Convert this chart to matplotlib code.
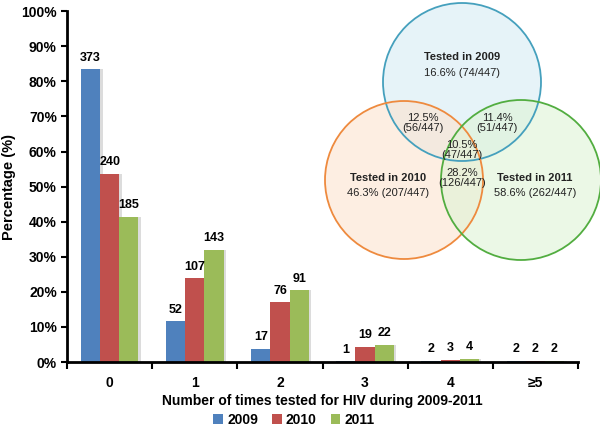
import matplotlib
matplotlib.use("Agg")
import matplotlib.pyplot as plt
from matplotlib.patches import Circle
import numpy as np

plt.rcParams['font.family'] = ['Liberation Sans', 'DejaVu Sans']

categories = ['0', '1', '2', '3', '4', '≥5']
years = ['2009', '2010', '2011']
pct_2009 = [83.4, 11.6, 3.8, 0.2, 0.4, 0.4]
pct_2010 = [53.7, 23.9, 17.0, 4.3, 0.7, 0.4]
pct_2011 = [41.4, 32.0, 20.4, 4.9, 0.9, 0.4]
cnt_2009 = [373, 52, 17, 1, 2, 2]
cnt_2010 = [240, 107, 76, 19, 3, 2]
cnt_2011 = [185, 143, 91, 22, 4, 2]
colors = ['#4f81bd', '#c0504d', '#9bbb59']

venn_titles = ['Tested in 2009', 'Tested in 2010', 'Tested in 2011']
venn_main = ['16.6% (74/447)', '46.3% (207/447)', '58.6% (262/447)']
venn_pairs = ['12.5%\n(56/447)', '11.4%\n(51/447)', '28.2%\n(126/447)']
venn_all = '10.5%\n(47/447)'

fig = plt.figure(figsize=(6.0, 4.29), dpi=100)
ax = fig.add_axes([0.112, 0.156, 0.851, 0.818])

x = np.arange(len(categories))
w = 0.225
series_p = [pct_2009, pct_2010, pct_2011]
series_c = [cnt_2009, cnt_2010, cnt_2011]
for i, (p, c, col, yr) in enumerate(zip(series_p, series_c, colors, years)):
    xs = x + (i - 1) * w
    # soft shadow
    ax.bar(xs + 0.03, p, w, color='#dcdcdc', zorder=1)
    ax.bar(xs, p, w, color=col, label=yr, zorder=2)
    for xi, pi, ci in zip(xs, p, c):
        ax.annotate(str(ci), (xi, pi), xytext=(0, 4), textcoords='offset points',
                    ha='center', va='bottom', fontsize=9, fontweight='bold')

ax.set_xlim(-0.5, len(categories) - 0.5)
ax.set_ylim(0, 100)
ax.set_yticks(np.arange(0, 101, 10))
ax.set_yticklabels([f'{v}%' for v in range(0, 101, 10)], fontsize=10, fontweight='bold')
ax.set_xticks(x)
ax.set_xticklabels(categories, fontsize=10, fontweight='bold')
ax.set_xticks(np.arange(-0.5, len(categories), 1), minor=True)
ax.tick_params(axis='x', which='major', length=0, pad=10)
ax.tick_params(axis='x', which='minor', length=5, width=1.5, direction='out')
ax.tick_params(axis='y', length=4, width=1.5, direction='out')
for s in ['top', 'right']:
    ax.spines[s].set_visible(False)
for s in ['left', 'bottom']:
    ax.spines[s].set_linewidth(2)
ax.set_ylabel('Percentage (%)', fontsize=10.5, fontweight='bold', labelpad=4)
ax.set_xlabel('Number of times tested for HIV during 2009-2011', fontsize=10,
              fontweight='bold', labelpad=3)
leg = fig.legend(loc='center', bbox_to_anchor=(0.49, 0.022), ncol=3, frameon=False,
                 prop={'weight': 'bold', 'size': 10}, handlelength=0.7,
                 handleheight=0.7, handletextpad=0.3, columnspacing=1.0)

# Venn overlay in pixel coordinates
ov = fig.add_axes([0, 0, 1, 1], facecolor='none')
ov.set_xlim(0, 600)
ov.set_ylim(429, 0)
ov.axis('off')
circ = [((462, 82), 79, '#d6ebf4', '#45a0bd'),
        ((404, 180), 79, '#fde3cf', '#ee8a3e'),
        ((521, 180), 80, '#def4d6', '#52ad40')]
for (cxy, r, fc, ec) in circ:
    ov.add_patch(Circle(cxy, r, facecolor=fc, edgecolor='none', alpha=0.6, zorder=1))
for (cxy, r, fc, ec) in circ:
    ov.add_patch(Circle(cxy, r, facecolor='none', edgecolor=ec, lw=1.3, zorder=2))

tkw = dict(ha='center', va='center', fontsize=8, color='#222222', zorder=3)
ov.text(462, 57, venn_titles[0], fontweight='bold', **tkw)
ov.text(462, 73, venn_main[0], **tkw)
ov.text(388, 178, venn_titles[1], fontweight='bold', **tkw)
ov.text(388, 193, venn_main[1], **tkw)
ov.text(535, 178, venn_titles[2], fontweight='bold', **tkw)
ov.text(535, 193, venn_main[2], **tkw)
ov.text(423, 123, venn_pairs[0], linespacing=1.05, **tkw)
ov.text(497, 123, venn_pairs[1], linespacing=1.05, **tkw)
ov.text(462, 150, venn_all, linespacing=0.95, **tkw)
ov.text(462, 178, venn_pairs[2], linespacing=0.95, **tkw)

fig.savefig('out.png', dpi=100)
